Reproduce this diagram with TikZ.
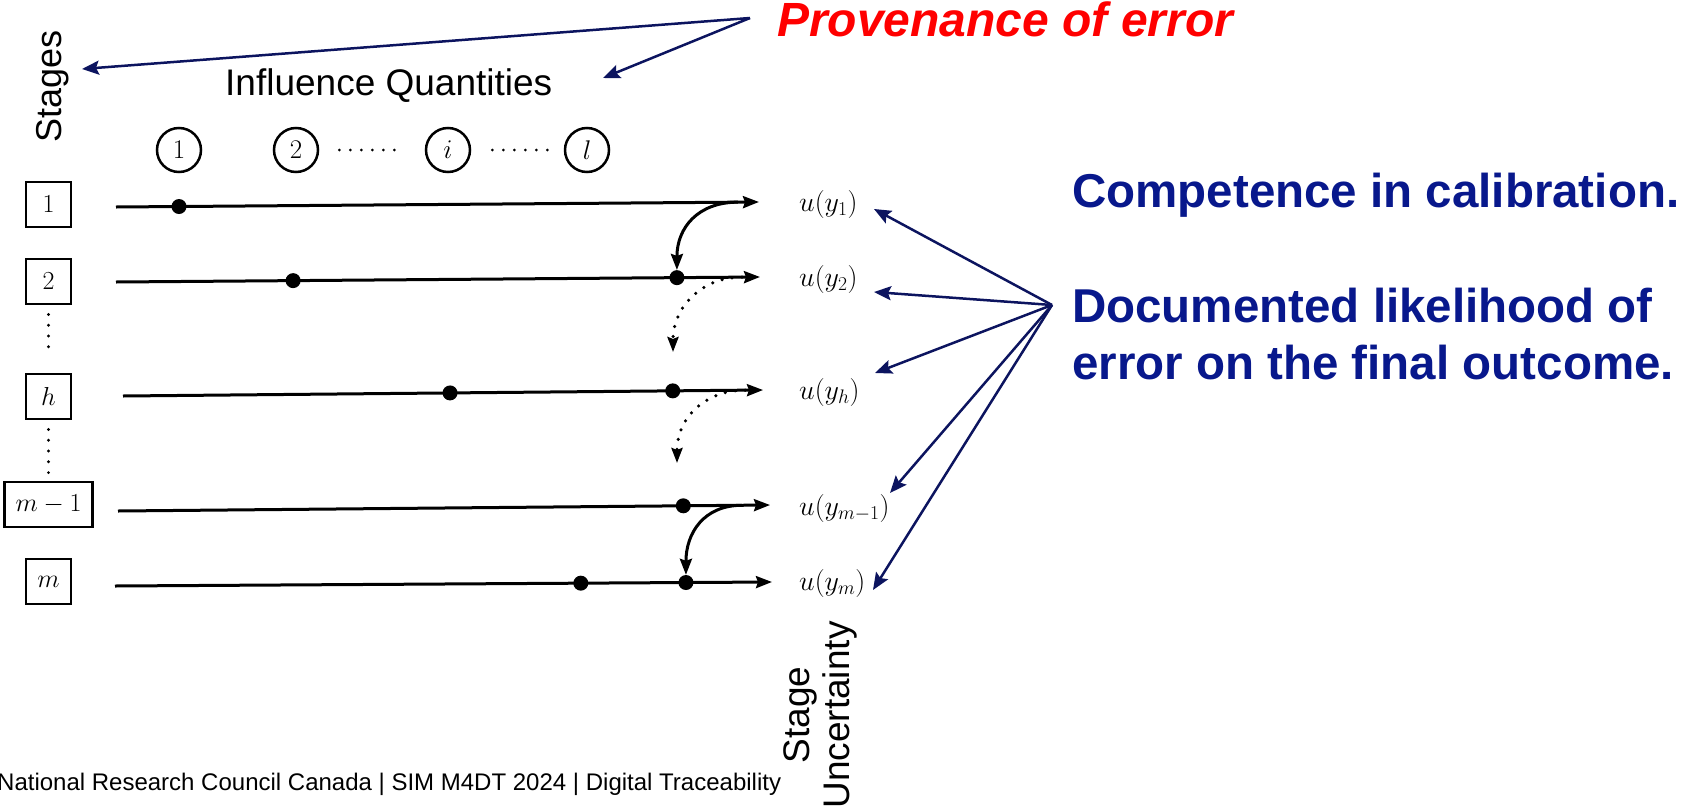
\RequirePackage{fix-cm}
\documentclass[tikz,border=0pt]{standalone}
\usepackage{fontspec}
\setmainfont{Liberation Sans}
\usetikzlibrary{arrows.meta,calc}
\definecolor{navy}{RGB}{12,20,95}
\definecolor{textblue}{RGB}{8,24,140}
\definecolor{errred}{RGB}{255,0,0}
\begin{document}
\begin{tikzpicture}[x=1pt,y=-1pt,
  stagebox/.style={draw,line width=2.8pt,minimum width=45pt,minimum height=45pt,
    inner sep=0pt,inner xsep=11pt,font=\fontsize{26}{30}\selectfont},
  iq/.style={draw,circle,line width=2.5pt,minimum size=44pt,inner sep=0pt,
    font=\fontsize{27}{30}\selectfont},
  dot/.style={circle,fill,minimum size=15pt,inner sep=0pt},
  flow/.style={line width=3pt,-{Stealth[length=16pt,width=12pt,inset=2pt]}},
  dotflow/.style={line width=3.5pt,line cap=round,dash pattern=on 0pt off 10pt,
    -{Stealth[length=15pt,width=11pt,inset=2pt]}},
  vdots/.style={line width=3.2pt,line cap=round,dash pattern=on 0pt off 10.8pt},
  ulab/.style={inner sep=0pt,font=\fontsize{28}{32}\selectfont},
  pointer/.style={navy,line width=2.5pt,-{Stealth[length=17pt,width=14pt,inset=3pt]}},
  bluetxt/.style={inner sep=0pt,text=textblue,font=\fontsize{47.5}{57}\selectfont\bfseries},
  plain/.style={inner sep=0pt,font=\fontsize{37}{40}\selectfont}
]
\useasboundingbox (0,0) rectangle (1687,809);

% stage boxes
\node[stagebox] (b1) at (48.5,204.5) {$1$};
\node[stagebox] (b2) at (48.5,281.5) {$2$};
\node[stagebox] (bh) at (48.5,396.5) {$h$};
\node[stagebox] (bm1) at (48.5,504.5) {$m-1$};
\node[stagebox] (bm) at (48.5,581.5) {$m$};
\draw[vdots] ([yshift=-9pt]b2.south) -- ([yshift=16pt]bh.north);
\draw[vdots] ([yshift=-9pt]bh.south) -- ([yshift=8pt]bm1.north);

% influence quantities
\node[iq] (c1) at (179,150) {$1$};
\node[iq] (c2) at (296,150) {$2$};
\node[iq] (ci) at (448,150) {$i$};
\node[iq] (cl) at (587,150) {$l$};
\draw[vdots,line width=3pt,dash pattern=on 0pt off 11pt] ([xshift=20pt]c2.east) -- ([xshift=-27pt]ci.west);
\draw[vdots,line width=3pt,dash pattern=on 0pt off 11pt] ([xshift=21pt]ci.east) -- ([xshift=-16pt]cl.west);

% stage lines
\coordinate (s1) at (116,207);  \coordinate (e1) at (759,202);
\coordinate (s2) at (116,282);  \coordinate (e2) at (760,277);
\coordinate (sh) at (123,396);  \coordinate (eh) at (763,390);
\coordinate (sm1) at (118,511); \coordinate (em1) at (770,505);
\coordinate (sm) at (115,586);  \coordinate (em) at (772,582);
\draw[flow] (s1) -- (e1);
\draw[flow] (s2) -- (e2);
\draw[flow] (sh) -- (eh);
\draw[flow] (sm1) -- (em1);
\draw[flow] (sm) -- (em);

% contributions of the influence quantities
\node[dot] (d11) at ($(s1)!0.098!(e1)$) {};
\node[dot] (d21) at ($(s2)!0.275!(e2)$) {};
\node[dot] (d22) at ($(s2)!0.871!(e2)$) {};
\node[dot] (dh1) at ($(sh)!0.511!(eh)$) {};
\node[dot] (dh2) at ($(sh)!0.859!(eh)$) {};
\node[dot] (dm12) at ($(sm1)!0.867!(em1)$) {};
\node[dot] (dm1) at ($(sm)!0.709!(em)$) {};
\node[dot] (dm2) at ($(sm)!0.869!(em)$) {};

% propagation between stages
\coordinate (h2) at (673,352);
\coordinate (h3) at (677,463);
\draw[flow] ($(s1)!0.967!(e1)$) .. controls +(-40,0) and +(0,-42) .. (d22.north);
\draw[dotflow] ($(s2)!0.972!(e2)$) .. controls +(-40,0) and +(0,-45) .. (h2);
\draw[dotflow] ($(sh)!0.972!(eh)$) .. controls +(-40,0) and +(0,-45) .. (h3);
\draw[flow] ($(sm1)!0.957!(em1)$) .. controls +(-38,0) and +(0,-42) .. (dm2.north);

% stage uncertainties
\node[ulab,anchor=west] (u1) at (799,204) {$u(y_1)$};
\node[ulab,anchor=west] (u2) at (799,279) {$u(y_2)$};
\node[ulab,anchor=west] (uh) at (799,392) {$u(y_h)$};
\node[ulab,anchor=west] (um1) at (799,508) {$u(y_{m-1})$};
\node[ulab,anchor=west] (um) at (799,583) {$u(y_m)$};

% axis titles
\node[plain,rotate=90,anchor=base,font=\fontsize{36}{40}\selectfont] (stages) at (61,86.5) {Stages};
\node[plain,anchor=base west] (infl) at (225,95) {Influence Quantities};
\node[plain,rotate=90,align=center,font=\fontsize{37}{40}\selectfont] (unc) at (820,715) {Stage\\Uncertainty};

% provenance of error
\node[inner sep=0pt,anchor=base west,text=errred,font=\fontsize{48}{52}\selectfont\bfseries\itshape] (prov) at (777,36) {Provenance of error};
\coordinate (ph) at (750,18);
\coordinate (tS) at (82,69);
\coordinate (tI) at (603,78);
\draw[pointer] (ph) -- (tS);
\draw[pointer] (ph) -- (tI);

% competence statements
\node[bluetxt,anchor=base west] (comp) at (1072,207) {Competence in calibration.};
\node[bluetxt,anchor=base west,align=left] (doc) at (1072,379) {Documented likelihood of\\error on the final outcome.};
\coordinate (hub) at (1052,305);
\coordinate (t1) at (874,209);
\coordinate (t2) at (874,292);
\coordinate (t3) at (875,373);
\coordinate (t4) at (890,493);
\coordinate (t5) at (873,590);
\foreach \t in {t1,t2,t3,t4,t5} \draw[pointer] (hub) -- (\t);

% footer
\node[inner sep=0pt,anchor=base west,font=\fontsize{24}{28}\selectfont] (foot) at (-3,790) {National Research Council Canada | SIM M4DT 2024 | Digital Traceability};
\end{tikzpicture}
\end{document}
